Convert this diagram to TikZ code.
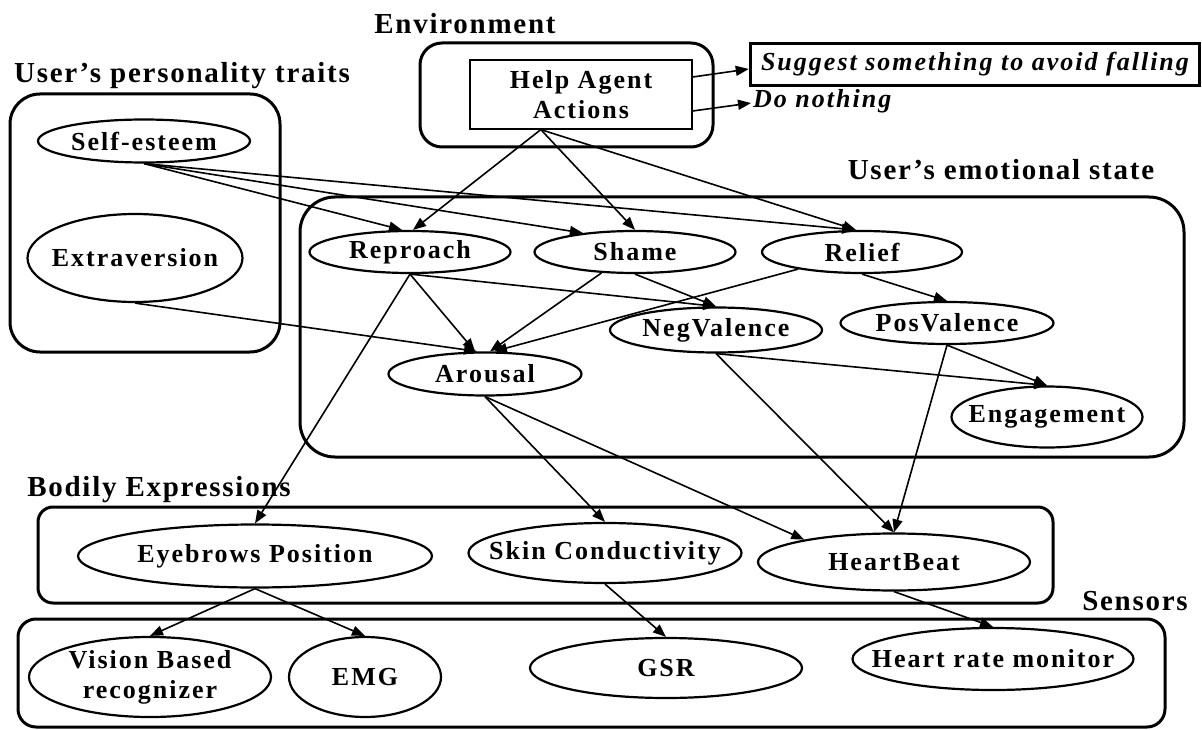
\documentclass[tikz,border=0pt]{standalone}
\usepackage{fontspec}
\setmainfont{Liberation Serif}[LetterSpace=7.7]
\newfontfamily\titlefont{Liberation Serif}[LetterSpace=6,Ligatures=TeX]
\usetikzlibrary{arrows.meta,shapes.geometric,calc}
\begin{document}
\begin{tikzpicture}[x=1pt,y=-1pt,
  nd/.style={ellipse, draw, line width=2.2pt, inner xsep=-60pt, inner ysep=-30pt,
    font=\fontsize{26}{30}\selectfont\bfseries, align=center},
  grp/.style={draw, line width=3pt, inner sep=0pt},
  ttl/.style={font=\titlefont\fontsize{29}{33}\selectfont\bfseries, inner sep=0pt},
  edge/.style={line width=1.6pt, -{Triangle[length=13pt,width=10pt]}}]
\useasboundingbox (0,0) rectangle (1202,730);

% group boxes
\node[grp, rounded corners=30pt, minimum width=270pt, minimum height=258pt] (pbox) at (145,223) {};
\node[grp, rounded corners=22pt, minimum width=293pt, minimum height=104pt] (envbox) at (566.5,95) {};
\node[grp, rounded corners=35pt, minimum width=884pt, minimum height=260pt] (emobox) at (742,327) {};
\node[grp, rounded corners=15pt, minimum width=1015pt, minimum height=96pt] (bodybox) at (545.5,555) {};
\node[grp, rounded corners=18pt, minimum width=1147pt, minimum height=108pt] (senbox) at (591.5,673) {};

% titles
\node[ttl] (tenv) at (465,24) {Environment};
\node[ttl] (tper) at (182,76) {User’s personality traits};
\node[ttl] (temo) at (1001,170) {User’s emotional state};
\node[ttl] (tbod) at (159,490) {Bodily Expressions};
\node[ttl] (tsen) at (1135,601) {Sensors};

% environment
\node[draw, line width=1.2pt, minimum width=222pt, minimum height=69pt, inner sep=0pt,
  align=center, font=\fontsize{26}{30}\selectfont\bfseries] (hlp) at (581,94.5) {Help Agent\\Actions};
\node[draw, line width=3.5pt, minimum width=449pt, minimum height=42pt, inner sep=0pt,
  font=\fontsize{26}{30}\selectfont\bfseries\itshape] (sug) at (975,64.5) {Suggest something to avoid falling};
\node[anchor=west, inner sep=0pt, font=\fontsize{26}{30}\selectfont\bfseries\itshape] (dn) at (753,101) {Do nothing};

% nodes
\node[nd, minimum width=212pt, minimum height=43pt] (se) at (144,141) {Self-esteem};
\node[nd, minimum width=215pt, minimum height=88pt] (ext) at (135,258) {Extraversion};
\node[nd, minimum width=201pt, minimum height=42pt] (rep) at (410,252) {Reproach};
\node[nd, minimum width=201pt, minimum height=42pt] (sh) at (635,252) {Shame};
\node[nd, minimum width=200pt, minimum height=42pt] (rel) at (862,252) {Relief};
\node[nd, minimum width=212pt, minimum height=45pt] (neg) at (716,330) {NegValence};
\node[nd, minimum width=213pt, minimum height=42pt] (pos) at (947,323) {PosValence};
\node[nd, minimum width=193pt, minimum height=43pt] (aro) at (485,374) {Arousal};
\node[nd, minimum width=191pt, minimum height=61pt] (eng) at (1047,417) {Engagement};
\node[nd, minimum width=354pt, minimum height=63pt] (eye) at (255,556) {Eyebrows Position};
\node[nd, minimum width=273pt, minimum height=60pt] (skin) at (605,553) {Skin Conductivity};
\node[nd, minimum width=272pt, minimum height=57pt] (hb) at (894,562) {HeartBeat};
\node[nd, minimum width=242pt, minimum height=80pt] (vis) at (150,677) {Vision Based\\recognizer};
\node[nd, minimum width=152pt, minimum height=80pt] (emg) at (365,677) {EMG};
\node[nd, minimum width=272pt, minimum height=60pt] (gsr) at (666,668) {GSR};
\node[nd, minimum width=281pt, minimum height=62pt] (hrm) at (993,659) {Heart rate monitor};

\coordinate (hlpb) at ($(hlp.south west)!0.32!(hlp.south east)$);

% edges
\draw[edge] ([yshift=17.5pt]hlp.east) -- ([yshift=-4.5pt]sug.west);
\draw[edge] ([yshift=-16.5pt]hlp.east) -- ([xshift=-2pt,yshift=-2pt]dn.west);
\draw[edge] (hlpb) -- ([xshift=3pt]rep.north);
\draw[edge] (hlpb) -- (sh.north);
\draw[edge] (hlpb) -- ([xshift=-6pt]rel.north);
\draw[edge] (se.south) -- ([xshift=-8pt]rep.north);
\draw[edge] (se.south) -- (sh.160);
\draw[edge] (se.south) -- ([xshift=-7pt]rel.north);
\draw[edge] (ext.south) -- ([xshift=-8pt]aro.north);
\draw[edge] (rep.south) -- ([xshift=-10pt]aro.north);
\draw[edge] (rep.south) -- (neg.north);
\draw[edge] (rep.south) -- (eye.north);
\draw[edge] (sh.212) -- ([xshift=5pt]aro.north);
\draw[edge] (sh.south) -- (neg.north);
\draw[edge] (rel.195) -- ([xshift=9pt]aro.north);
\draw[edge] (rel.south) -- (pos.north);
\draw[edge] (neg.south) -- (eng.north);
\draw[edge] (neg.south) -- (hb.north);
\draw[edge] (pos.south) -- (eng.north);
\draw[edge] (pos.south) -- (hb.north);
\draw[edge] (aro.south) -- (skin.north);
\draw[edge] (aro.south) -- (hb.166);
\draw[edge] (eye.south) -- (vis.north);
\draw[edge] (eye.south) -- (emg.north);
\draw[edge] (skin.south) -- (gsr.north);
\draw[edge] (hb.south) -- (hrm.north);
\end{tikzpicture}
\end{document}
